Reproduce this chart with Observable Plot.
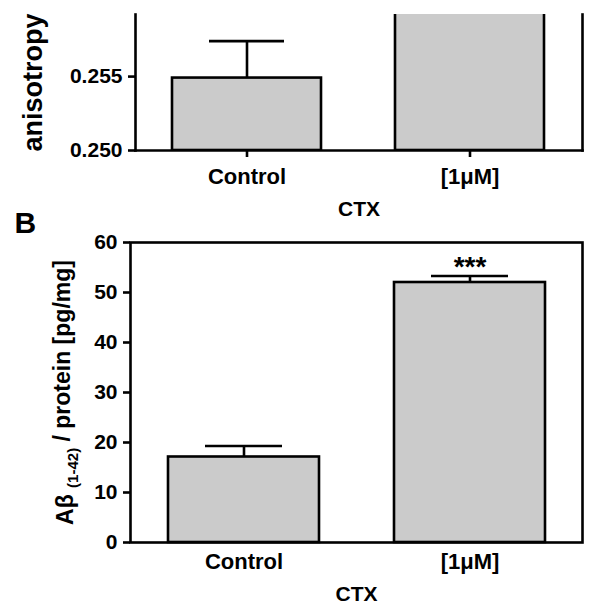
<!DOCTYPE html>
<html><head><meta charset="utf-8">
<script src="https://cdn.jsdelivr.net/npm/d3@7"></script>
<script src="https://cdn.jsdelivr.net/npm/@observablehq/plot@0.6"></script>
<style>
body{margin:0;background:#fff;}
#wrap{position:relative;width:600px;height:611px;overflow:hidden;}
#wrap svg{position:absolute;left:0;}
</style></head><body><div id="wrap"></div>
<script>
// ---- data ----
const categories = ["Control", "[1μM]"];
const anisotropyMean = [0.2549, 0.2625];
const anisotropyErr = [0.0025, 0.0020];
const abetaMean = [17.1, 52.0];
const abetaErr = [2.2, 1.3];
const significance = ["", "***"];
const anisoTicks = [0.250, 0.255];
const abetaTicks = [0, 10, 20, 30, 40, 50, 60];
const anisoDomain = [0.250, 0.2592];
const abetaDomain = [0, 60];
const xLabel = "CTX";
const anisoLabel = "anisotropy";
const abetaLabel = "Aβ (1-42) / protein [pg/mg]";
const panelB = "B";

const FONT = "'Liberation Sans', Arial, Helvetica, sans-serif";
const SW = 2.6;
const FILL = "#cbcbcb";
const baseStyle = {background: "transparent", fontFamily: FONT, fontWeight: "bold", fontSize: "21px", color: "#000", overflow: "visible"};

const A = categories.map((c, i) => ({c, v: anisotropyMean[i], e: anisotropyErr[i], base: anisoDomain[0]}));
const B = categories.map((c, i) => ({c, v: abetaMean[i], e: abetaErr[i], s: significance[i]}));

const topPlot = Plot.plot({
  width: 600, height: 222,
  marginLeft: 135, marginRight: 18, marginTop: 14, marginBottom: 72,
  style: baseStyle,
  x: {domain: categories, paddingInner: 0.33, paddingOuter: 0.163, axis: null},
  y: {domain: anisoDomain, axis: null},
  marks: [
    Plot.barY(A, {x: "c", y1: "base", y2: "v", fill: FILL, stroke: "#000", strokeWidth: SW, clip: true}),
    Plot.ruleX(A, {x: "c", y1: "v", y2: d => d.v + d.e, stroke: "#000", strokeWidth: SW, clip: true}),
    Plot.tickY(A, {x: "c", y: d => d.v + d.e, insetLeft: 37, insetRight: 37, stroke: "#000", strokeWidth: SW, clip: true}),
    Plot.axisY({ticks: anisoTicks, tickFormat: d3.format(".3f"), tickSize: 7, tickPadding: 6, strokeWidth: SW, label: null}),
    Plot.axisX({tickSize: 7, tickPadding: 11, strokeWidth: SW, label: null, fontSize: 22}),
    Plot.frame({anchor: "left", strokeWidth: SW}),
    Plot.frame({anchor: "bottom", strokeWidth: SW}),
    Plot.frame({anchor: "right", strokeWidth: SW}),
    Plot.text([anisoLabel], {frameAnchor: "left", text: d => d, rotate: -90, dx: -102, textAnchor: "middle", lineAnchor: "middle", fontSize: 27, fontWeight: "bold"}),
    Plot.text([xLabel], {frameAnchor: "bottom", text: d => d, dy: 65, fontSize: 21, fontWeight: "bold"})
  ]
});

const botPlot = Plot.plot({
  width: 600, height: 411,
  marginLeft: 130, marginRight: 18, marginTop: 42, marginBottom: 69,
  style: baseStyle,
  x: {domain: categories, paddingInner: 0.333, paddingOuter: 0.164, axis: null},
  y: {domain: abetaDomain, axis: null},
  marks: [
    Plot.barY(B, {x: "c", y: "v", fill: FILL, stroke: "#000", strokeWidth: SW}),
    Plot.ruleX(B, {x: "c", y1: "v", y2: d => d.v + d.e, stroke: "#000", strokeWidth: SW}),
    Plot.tickY(B, {x: "c", y: d => d.v + d.e, insetLeft: 37, insetRight: 37, stroke: "#000", strokeWidth: SW}),
    Plot.text(B, {x: "c", y: d => d.v + d.e, text: "s", lineAnchor: "bottom", dy: 0, fontSize: 28, fontWeight: "bold"}),
    Plot.axisY({ticks: abetaTicks, tickSize: 7, tickPadding: 6, strokeWidth: SW, label: null}),
    Plot.axisX({tickSize: 0, tickPadding: 11, label: null, fontSize: 22}),
    Plot.frame({strokeWidth: SW}),
    Plot.text([abetaLabel], {frameAnchor: "left", text: d => d, rotate: -90, dx: -65, textAnchor: "middle", lineAnchor: "middle", fontSize: 23, fontWeight: "bold"}),
    Plot.text([xLabel], {frameAnchor: "bottom", text: d => d, dy: 58, fontSize: 21, fontWeight: "bold"}),
    Plot.text([panelB], {frameAnchor: "top-left", text: d => d, dx: -116, dy: -31, textAnchor: "start", fontSize: 30, fontWeight: "bold"})
  ]
});

const wrap = document.getElementById("wrap");
topPlot.style.top = "0px";
botPlot.style.top = "200px";
wrap.appendChild(topPlot);
wrap.appendChild(botPlot);

// subscript for (1-42)
d3.select(botPlot).selectAll("text").each(function() {
  if (this.textContent === abetaLabel) {
    const t = d3.select(this);
    const [pre, rest] = abetaLabel.split(" (1-42)");
    t.text(null);
    t.append("tspan").text(pre + " ");
    t.append("tspan").attr("font-size", 15).attr("dy", "0.35em").text("(1-42)");
    t.append("tspan").attr("dy", "-0.35em").text(rest);
  }
});
</script>
</body></html>
